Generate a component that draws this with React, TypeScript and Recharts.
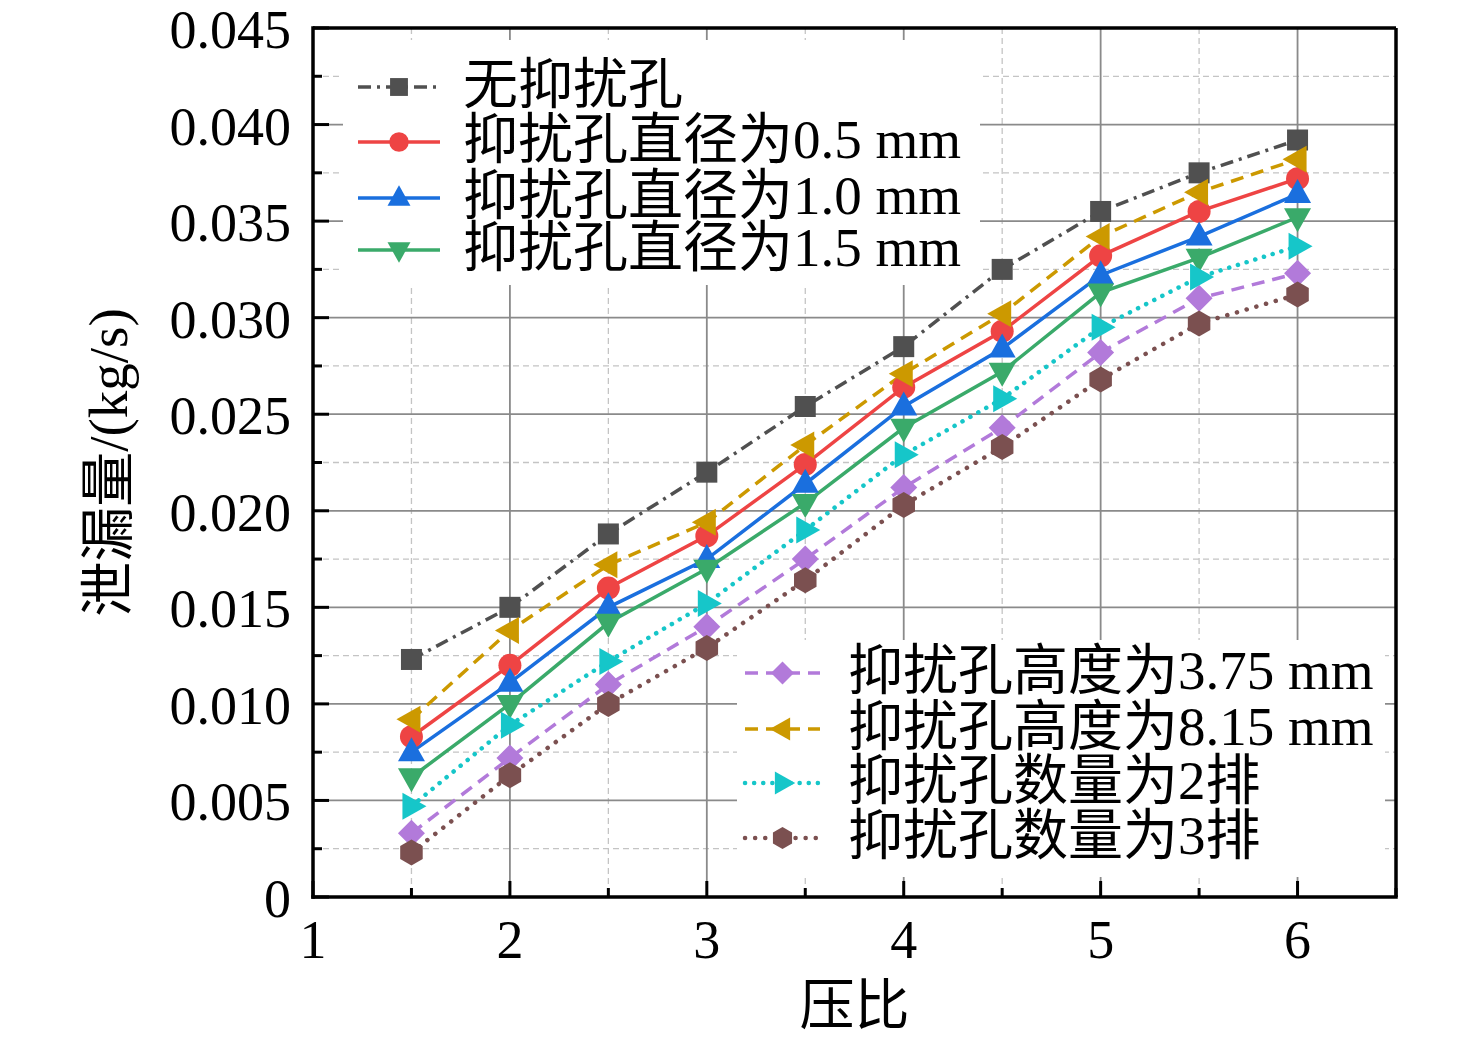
import React from 'react';
import { LineChart, Line, XAxis, YAxis, CartesianGrid, Legend } from 'recharts';

const pressureRatio = [1.5, 2, 2.5, 3, 3.5, 4, 4.5, 5, 5.5, 6];
const noHole = [0.0123, 0.0150, 0.0188, 0.0220, 0.0254, 0.0285, 0.0325, 0.0355, 0.0375, 0.0392];
const dia05 = [0.0083, 0.0120, 0.0160, 0.0187, 0.0224, 0.0264, 0.0293, 0.0332, 0.0355, 0.0372];
const dia10 = [0.0075, 0.0111, 0.0150, 0.0175, 0.0214, 0.0254, 0.0284, 0.0322, 0.0342, 0.0364];
const dia15 = [0.0062, 0.0100, 0.0142, 0.0170, 0.0204, 0.0243, 0.0272, 0.0313, 0.0331, 0.0352];
const h375 = [0.0033, 0.0072, 0.0110, 0.0140, 0.0175, 0.0212, 0.0243, 0.0282, 0.0310, 0.0323];
const h815 = [0.0092, 0.0138, 0.0172, 0.0194, 0.0234, 0.0271, 0.0302, 0.0342, 0.0365, 0.0382];
const rows2 = [0.0047, 0.0089, 0.0122, 0.0152, 0.0190, 0.0229, 0.0258, 0.0295, 0.0321, 0.0337];
const rows3 = [0.0023, 0.0063, 0.0100, 0.0129, 0.0164, 0.0203, 0.0233, 0.0268, 0.0297, 0.0312];

const xTicks = [1, 1.5, 2, 2.5, 3, 3.5, 4, 4.5, 5, 5.5, 6, 6.5];
const yTicks = [0, 0.0025, 0.005, 0.0075, 0.01, 0.0125, 0.015, 0.0175, 0.02, 0.0225, 0.025, 0.0275, 0.03, 0.0325, 0.035, 0.0375, 0.04, 0.0425, 0.045];
const xMajorGrid = [2, 3, 4, 5, 6];
const xMinorGrid = [1.5, 2.5, 3.5, 4.5, 5.5];
const yMajorGrid = [0.005, 0.01, 0.015, 0.02, 0.025, 0.03, 0.035, 0.04];
const yMinorGrid = [0.0025, 0.0075, 0.0125, 0.0175, 0.0225, 0.0275, 0.0325, 0.0375, 0.0425];
const xFrame = [6.5];
const yFrame = [0.045];

const seriesNames = [
  '无抑扰孔',
  '抑扰孔直径为0.5 mm',
  '抑扰孔直径为1.0 mm',
  '抑扰孔直径为1.5 mm',
  '抑扰孔高度为3.75 mm',
  '抑扰孔高度为8.15 mm',
  '抑扰孔数量为2排',
  '抑扰孔数量为3排',
];
const seriesValues = [noHole, dia05, dia10, dia15, h375, h815, rows2, rows3];

const FONT = '"Liberation Serif", "Times New Roman", "Noto Sans CJK SC", serif';

type Style = { color: string; dash?: string; width: number; cap: 'butt' | 'round'; marker: string };
const styles: Style[] = [
  { color: '#505050', dash: '13 6 3 6', width: 3.5, cap: 'butt', marker: 'square' },
  { color: '#ee4444', width: 3.5, cap: 'butt', marker: 'circle' },
  { color: '#1a6fde', width: 3.5, cap: 'butt', marker: 'triUp' },
  { color: '#3aaa6a', width: 3.5, cap: 'butt', marker: 'triDown' },
  { color: '#b27ada', dash: '13 8', width: 3.5, cap: 'butt', marker: 'diamond' },
  { color: '#cc9900', dash: '13 8', width: 3.5, cap: 'butt', marker: 'triLeft' },
  { color: '#16c6c9', dash: '0.1 9', width: 4.5, cap: 'round', marker: 'triRight' },
  { color: '#7b5050', dash: '0.1 10', width: 4.5, cap: 'round', marker: 'hexagon' },
];

const data = pressureRatio.map((x, i) => {
  const row: Record<string, number> = { x };
  seriesValues.forEach((vals, s) => {
    row[`s${s}`] = vals[i];
  });
  return row;
});

function pts(arr: number[][]): string {
  return arr.map((p) => `${p[0]},${p[1]}`).join(' ');
}

function Marker({ kind, cx, cy, color, scale = 1 }: { kind: string; cx: number; cy: number; color: string; scale?: number }) {
  const k = scale;
  switch (kind) {
    case 'square':
      return <rect x={cx - 10.5 * k} y={cy - 10.5 * k} width={21 * k} height={21 * k} fill={color} />;
    case 'circle':
      return <circle cx={cx} cy={cy} r={11.5 * k} fill={color} />;
    case 'triUp':
      return <polygon points={pts([[cx, cy - 15 * k], [cx + 13.5 * k, cy + 9 * k], [cx - 13.5 * k, cy + 9 * k]])} fill={color} />;
    case 'triDown':
      return <polygon points={pts([[cx, cy + 15 * k], [cx + 13.5 * k, cy - 9 * k], [cx - 13.5 * k, cy - 9 * k]])} fill={color} />;
    case 'diamond':
      return <polygon points={pts([[cx, cy - 13.5 * k], [cx + 13.5 * k, cy], [cx, cy + 13.5 * k], [cx - 13.5 * k, cy]])} fill={color} />;
    case 'triLeft':
      return <polygon points={pts([[cx - 15 * k, cy], [cx + 9 * k, cy - 13.5 * k], [cx + 9 * k, cy + 13.5 * k]])} fill={color} />;
    case 'triRight':
      return <polygon points={pts([[cx + 15 * k, cy], [cx - 9 * k, cy - 13.5 * k], [cx - 9 * k, cy + 13.5 * k]])} fill={color} />;
    case 'hexagon': {
      const r = 13 * k;
      const p: number[][] = [];
      for (let i = 0; i < 6; i++) {
        const a = (Math.PI / 180) * (-90 + 60 * i);
        p.push([cx + r * Math.cos(a), cy + r * Math.sin(a)]);
      }
      return <polygon points={pts(p)} fill={color} />;
    }
    default:
      return null;
  }
}

function isMultiple(v: number, step: number) {
  const q = v / step;
  return Math.abs(q - Math.round(q)) < 1e-6;
}

const YTick = (props: any) => {
  const { x, y, payload } = props;
  const v = payload.value as number;
  const major = isMultiple(v, 0.005);
  return (
    <g>
      <line x1={x} y1={y} x2={x + (major ? 16 : 9)} y2={y} stroke="#000" strokeWidth={3} />
      {major && (
        <text x={x - 22} y={y + 2} textAnchor="end" dominantBaseline="central" fontSize={54} fontFamily={FONT} fill="#000">
          {v === 0 ? '0' : v.toFixed(3)}
        </text>
      )}
    </g>
  );
};

const XTick = (props: any) => {
  const { x, y, payload } = props;
  const v = payload.value as number;
  const major = isMultiple(v, 1) && v <= 6;
  return (
    <g>
      <line x1={x} y1={y} x2={x} y2={y - (major ? 16 : 9)} stroke="#000" strokeWidth={3} />
      {major && (
        <text x={x} y={y + 43} textAnchor="middle" dominantBaseline="central" fontSize={54} fontFamily={FONT} fill="#000">
          {String(v)}
        </text>
      )}
    </g>
  );
};

const YTitle = (props: any) => {
  const vb = props.viewBox || { x: 0, y: 20, width: 305, height: 869 };
  const cx = vb.x + 100;
  const cy = vb.y + vb.height / 2;
  return (
    <text x={cx} y={cy} transform={`rotate(-90 ${cx} ${cy})`} textAnchor="middle" dominantBaseline="central" fontSize={55} fontFamily={FONT} fill="#000">
      泄漏量/(kg/s)
    </text>
  );
};

const XTitle = (props: any) => {
  const vb = props.viewBox || { x: 305, y: 889, width: 1083, height: 137 };
  const cx = vb.x + vb.width / 2;
  const cy = vb.y + 108;
  return (
    <text x={cx} y={cy} textAnchor="middle" dominantBaseline="central" fontSize={55} fontFamily={FONT} fill="#000">
      压比
    </text>
  );
};

type LegendBox = { x: number; y: number; w: number; h: number; rows: number[]; lineX1: number; lineX2: number; textX: number; items: number[] };
const legendBoxes: LegendBox[] = [
  { x: 335, y: 32, w: 637, h: 245, rows: [79, 134, 190, 242], lineX1: 350, lineX2: 432, textX: 455, items: [0, 1, 2, 3] },
  { x: 729, y: 632, w: 648, h: 237, rows: [665, 721, 775, 830], lineX1: 737, lineX2: 812, textX: 840, items: [4, 5, 6, 7] },
];

const LegendOverlay = () => (
  <svg width={1460} height={1026} style={{ position: 'absolute', left: 0, top: 0, pointerEvents: 'none' }}>
    {legendBoxes.map((b, bi) => (
      <g key={bi}>
        <rect x={b.x} y={b.y} width={b.w} height={b.h} fill="#fff" />
        {b.items.map((s, ri) => {
          const st = styles[s];
          const cy = b.rows[ri];
          const mx = (b.lineX1 + b.lineX2) / 2;
          return (
            <g key={s}>
              <line x1={b.lineX1} y1={cy} x2={b.lineX2} y2={cy} stroke={st.color} strokeWidth={st.width} strokeDasharray={st.dash} strokeLinecap={st.cap} />
              <Marker kind={st.marker} cx={mx} cy={cy} color={st.color} scale={0.85} />
              <text x={b.textX} y={cy - 3} dominantBaseline="central" fontSize={55} fontFamily={FONT} fill="#000">
                {seriesNames[s]}
              </text>
            </g>
          );
        })}
      </g>
    ))}
  </svg>
);

export default function App() {
  return (
    <div style={{ width: 1460, height: 1026, position: 'relative', fontFamily: FONT }}>
      <LineChart width={1460} height={1026} data={data} margin={{ top: 20, right: 72, left: 0, bottom: 0 }}>
        <CartesianGrid verticalValues={xMinorGrid} horizontalValues={yMinorGrid} stroke="#c4c4c4" strokeDasharray="6 4" strokeWidth={1.3} />
        <CartesianGrid verticalValues={xMajorGrid} horizontalValues={yMajorGrid} stroke="#8a8a8a" strokeWidth={1.8} />
        <CartesianGrid verticalValues={xFrame} horizontalValues={yFrame} stroke="#000" strokeWidth={3.5} />
        <XAxis
          dataKey="x"
          type="number"
          domain={[1, 6.5]}
          ticks={xTicks}
          interval={0}
          height={137}
          tickSize={0}
          tickMargin={0}
          tickLine={false}
          axisLine={{ stroke: '#000', strokeWidth: 3.5, strokeLinecap: 'square' }}
          tick={<XTick />}
          allowDataOverflow
          label={{ content: (p: any) => <XTitle {...p} /> }}
        />
        <YAxis
          type="number"
          domain={[0, 0.045]}
          ticks={yTicks}
          interval={0}
          width={305}
          tickSize={0}
          tickMargin={0}
          tickLine={false}
          axisLine={{ stroke: '#000', strokeWidth: 3.5, strokeLinecap: 'square' }}
          tick={<YTick />}
          allowDataOverflow
          label={{ content: (p: any) => <YTitle {...p} /> }}
        />
        {styles.map((st, s) => (
          <Line
            key={s}
            dataKey={`s${s}`}
            name={seriesNames[s]}
            type="linear"
            stroke={st.color}
            strokeWidth={st.width}
            strokeDasharray={st.dash}
            strokeLinecap={st.cap}
            isAnimationActive={false}
            activeDot={false}
            dot={(p: any) => <Marker key={`d${s}-${p.index}`} kind={st.marker} cx={p.cx} cy={p.cy} color={st.color} />}
          />
        ))}
        <Legend
          layout="vertical"
          align="center"
          verticalAlign="middle"
          wrapperStyle={{ position: 'absolute', left: 0, top: 0, width: 1460, height: 1026, pointerEvents: 'none' }}
          content={() => <LegendOverlay />}
        />
      </LineChart>
    </div>
  );
}
